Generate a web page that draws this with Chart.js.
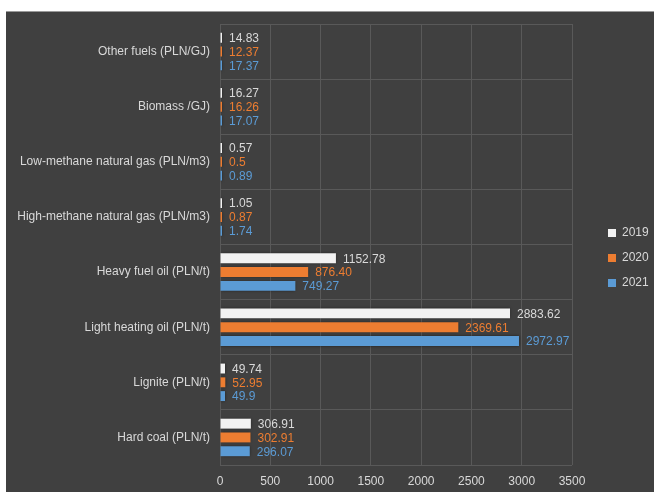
<!DOCTYPE html>
<html>
<head>
<meta charset="utf-8">
<script src="https://cdn.jsdelivr.net/npm/chart.js@4"></script>
<style>
  html, body { margin: 0; padding: 0; background: #ffffff; }
  #panel {
    position: absolute; left: 6px; top: 11px; width: 648px; height: 481px;
    background: #404040; border-top: 1px solid #9a9a9a; box-sizing: border-box;
  }
  #panel canvas { position: absolute; left: 0; top: 0; }
</style>
</head>
<body>
<div id="panel"><canvas id="fuels" width="648" height="480"></canvas></div>
<script>
const categories = [
    'Other fuels (PLN/GJ)',
    'Biomass /GJ)',
    'Low-methane natural gas (PLN/m3)',
    'High-methane natural gas (PLN/m3)',
    'Heavy fuel oil (PLN/t)',
    'Light heating oil (PLN/t)',
    'Lignite (PLN/t)',
    'Hard coal (PLN/t)'
];
// kept as text so the printed labels keep their own decimals
const prices2019 = ['14.83', '16.27', '0.57', '1.05', '1152.78', '2883.62', '49.74', '306.91'];
const prices2020 = ['12.37', '16.26', '0.5', '0.87', '876.40', '2369.61', '52.95', '302.91'];
const prices2021 = ['17.37', '17.07', '0.89', '1.74', '749.27', '2972.97', '49.9', '296.07'];
const xTicks = [0, 500, 1000, 1500, 2000, 2500, 3000, 3500];

const textColor = '#d9d9d9';
const gridColor = '#595959';
const font = { family: '"Liberation Sans", Arial, sans-serif', size: 12 };

function make_dataset(label, data, color, labelColor) {
    return {
        label: label,
        data: data,
        backgroundColor: color,
        borderWidth: 0,
        labelColor: labelColor,
        barPercentage: 0.72,
        categoryPercentage: 0.75,
        minBarLength: 2
    };
}

// soft halo under the bars, then the value printed after each bar
const valueLabels = {
    id: 'valueLabels',
    beforeDatasetsDraw(chart) {
        const ctx = chart.ctx;
        ctx.save();
        ctx.shadowColor = 'rgba(0, 0, 0, 0.55)';
        ctx.shadowBlur = 3;
    },
    afterDatasetsDraw(chart) {
        const ctx = chart.ctx;
        ctx.restore();
        ctx.save();
        ctx.font = `${font.size}px ${font.family}`;
        ctx.textBaseline = 'middle';
        ctx.textAlign = 'left';
        chart.data.datasets.forEach((ds, i) => {
            const meta = chart.getDatasetMeta(i);
            ctx.fillStyle = ds.labelColor;
            meta.data.forEach((bar, j) => {
                ctx.fillText(ds.data[j], bar.x + 7, bar.y + 1);
            });
        });
        ctx.restore();
    }
};

// the plot edges are set by layout padding only, not by half-label overhang
function no_overhang(scale) {
    scale.paddingTop = 0;
    scale.paddingBottom = 0;
    scale.paddingLeft = 0;
    scale.paddingRight = 0;
}

const canvas = document.getElementById('fuels').getContext('2d');
const data = {
    labels: categories,
    datasets: [
        make_dataset('2019', prices2019, '#f2f2f2', textColor),
        make_dataset('2020', prices2020, '#ed7d31', '#ed7d31'),
        make_dataset('2021', prices2021, '#5b9bd5', '#5b9bd5')
    ]
};

const config = {
    type: 'bar',
    data: data,
    plugins: [valueLabels],
    options: {
        indexAxis: 'y',
        responsive: false,
        animation: false,
        events: [],
        layout: { padding: { top: 12, bottom: 0, left: 0, right: 5 } },
        scales: {
            x: {
                min: 0,
                max: 3500,
                afterBuildTicks: (scale) => { scale.ticks = xTicks.map(v => ({ value: v })); },
                afterFit: (scale) => { no_overhang(scale); scale.height = 27; },
                grid: { color: gridColor, drawTicks: false },
                border: { display: false },
                ticks: { color: textColor, font: font, padding: 9, callback: (v) => String(v) }
            },
            y: {
                afterFit: (scale) => { no_overhang(scale); scale.width = 214; },
                grid: { color: gridColor, drawTicks: false, offset: true },
                border: { display: false },
                ticks: { color: textColor, font: font, padding: 10 }
            },
            // empty strip between the plot and the legend
            gap: {
                type: 'linear',
                axis: 'y',
                position: 'right',
                afterFit: (scale) => { no_overhang(scale); scale.width = 23; },
                grid: { display: false },
                border: { display: false },
                ticks: { display: false }
            }
        },
        plugins: {
            tooltip: { enabled: false },
            legend: {
                position: 'right',
                maxWidth: 54,
                labels: {
                    color: textColor,
                    font: font,
                    boxWidth: 8,
                    boxHeight: 8,
                    padding: 13
                }
            }
        }
    }
};

const myChart = new Chart(canvas, config);
</script>
</body>
</html>
